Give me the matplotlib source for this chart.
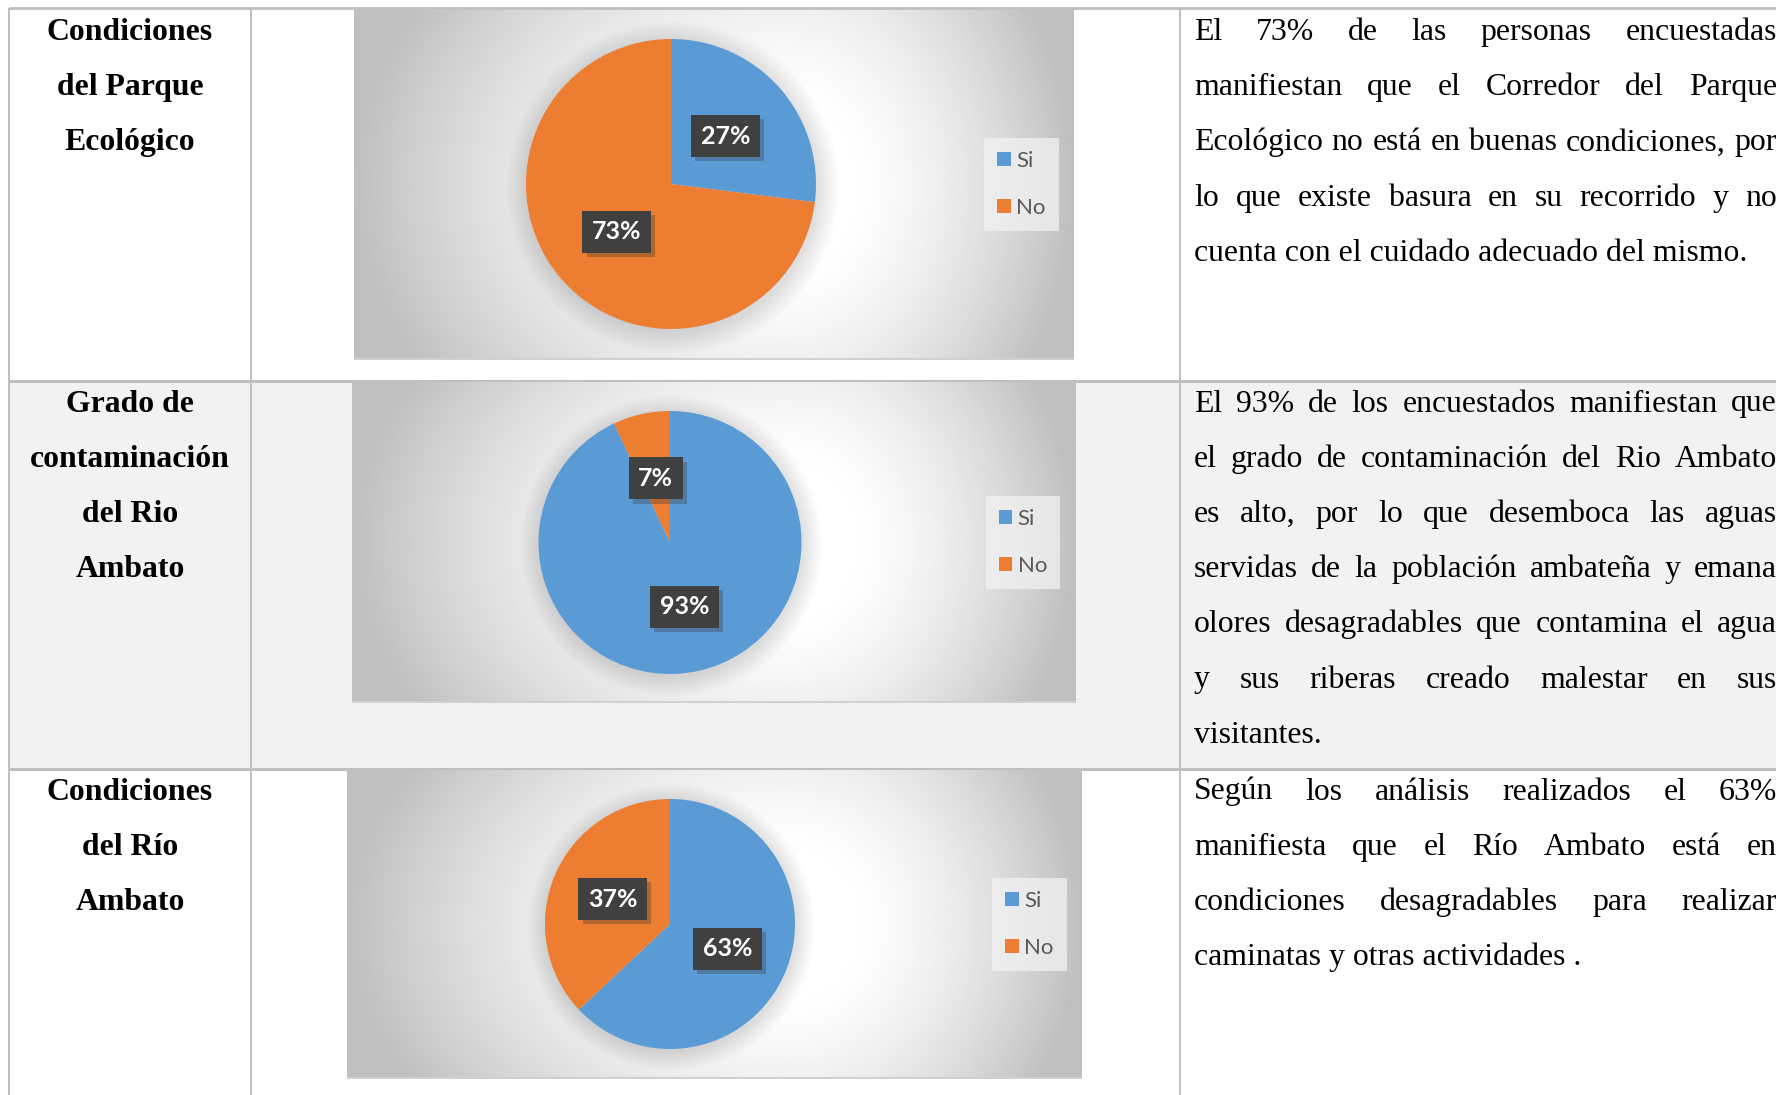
import numpy as np
import matplotlib.pyplot as plt
import matplotlib.patheffects as pe
from matplotlib.patches import Circle, Rectangle

# figure size in pixels (dpi 100)
W, H = 1776, 1095

# data
categories = ["Si", "No"]
colors = ["#5B9BD5", "#ED7D31"]

parque_values = [27, 73]
contaminacion_values = [93, 7]
rio_values = [63, 37]
pie_values = [parque_values, contaminacion_values, rio_values]

headings = [
    ["Condiciones", "del Parque", "Ecológico"],
    ["Grado de", "contaminación", "del Rio", "Ambato"],
    ["Condiciones", "del Río", "Ambato"],
]

paragraphs = [
    ["El 73% de las personas encuestadas",
     "manifiestan que el Corredor del Parque",
     "Ecológico no está en buenas condiciones, por",
     "lo que existe basura en su recorrido y no",
     "cuenta con el cuidado adecuado del mismo."],
    ["El 93% de los encuestados manifiestan que",
     "el grado de contaminación del Rio Ambato",
     "es alto, por lo que desemboca las aguas",
     "servidas de la población ambateña y emana",
     "olores desagradables que contamina el agua",
     "y sus riberas creado malestar en sus",
     "visitantes."],
    ["Según los análisis realizados el 63%",
     "manifiesta que el Río Ambato está en",
     "condiciones desagradables para realizar",
     "caminatas y otras actividades ."],
]

# layout (pixels, origin top-left)
row_tops = [8, 381, 769]
row_bottoms = [381, 769, H]
row_bg = ["white", "#f2f2f2", "white"]
first_baseline = [40, 411.5, 799.5]
line_step = 55.2
col_lines = [9, 251, 1180]
head_x = 130
text_left, text_right = 1194, 1777

chart_boxes = [(354, 10, 1074, 360), (352, 382, 1075, 703), (347, 770, 1081, 1079)]
pie_geo = [(671, 184, 145), (670, 542.5, 131.5), (670, 924, 125)]
legend_pos = [(1021.5, 184.5), (1023, 542.5), (1029.5, 924.5)]

serif = "Liberation Serif"
txt_size = 22.9
line_col = "#bfbfbf"


def frac(x0, y0, x1, y1):
    return [x0 / W, 1 - y1 / H, (x1 - x0) / W, (y1 - y0) / H]


fig = plt.figure(figsize=(W / 100, H / 100), dpi=100)
ax0 = fig.add_axes([0, 0, 1, 1])
ax0.set_xlim(0, W)
ax0.set_ylim(H, 0)
ax0.axis("off")

# table rows and lines
for top, bot, bg in zip(row_tops, row_bottoms, row_bg):
    ax0.add_patch(Rectangle((col_lines[0], top), W, bot - top, color=bg, lw=0))
for y in row_tops[1:]:
    ax0.plot([col_lines[0], W], [y, y], color=line_col, lw=2.2, solid_capstyle="butt")
ax0.plot([col_lines[0], W], [8, 8], color=line_col, lw=2.0, solid_capstyle="butt")
for x in col_lines:
    ax0.plot([x, x], [8, H], color=line_col, lw=1.4, solid_capstyle="butt")

# headings
for r, lines in enumerate(headings):
    for i, s in enumerate(lines):
        ax0.text(head_x, first_baseline[r] + i * line_step, s, ha="center",
                 va="baseline", fontsize=txt_size, fontweight="bold", family=serif)

# justified paragraphs
renderer = fig.canvas.get_renderer()


def word_width(s):
    t = ax0.text(0, 0, s, fontsize=txt_size, family=serif)
    w = t.get_window_extent(renderer).width
    t.remove()
    return w


for r, lines in enumerate(paragraphs):
    for i, s in enumerate(lines):
        y = first_baseline[r] + i * line_step
        words = s.split(" ")
        if i == len(lines) - 1 or len(words) == 1:
            ax0.text(text_left, y, s, ha="left", va="baseline",
                     fontsize=txt_size, family=serif)
            continue
        widths = [word_width(w) for w in words]
        gap = (text_right - text_left - sum(widths)) / (len(words) - 1)
        x = text_left
        for w, wd in zip(words, widths):
            ax0.text(x, y, w, ha="left", va="baseline", fontsize=txt_size, family=serif)
            x += wd + gap

# gradient background for the chart pictures
nx, ny = 500, 250
gx, gy = np.meshgrid(np.linspace(0, 1, nx), np.linspace(0, 1, ny))
cx = 0.6
dx = np.where(gx < cx, (gx - cx) / cx, (gx - cx) / (1 - cx))
dy = (gy - 0.5) / 0.5
tt = np.sqrt(dx ** 2 + (dy * 0.5) ** 2)
grad = 1 - 0.25 * np.clip((tt - 0.2) / 0.8, 0, 1) ** 1.5

for k in range(3):
    x0, y0, x1, y1 = chart_boxes[k]
    axb = fig.add_axes(frac(x0, y0, x1, y1))
    axb.imshow(grad, extent=[0, 1, 0, 1], aspect="auto", cmap="gray",
               vmin=0, vmax=1, interpolation="bilinear")
    axb.set_xlim(0, 1)
    axb.set_ylim(0, 1)
    axb.axis("off")
    axb.plot([0, 1], [0.002, 0.002], color="#d0d0d0", lw=1.5)

    # pie
    pcx, pcy, pr = pie_geo[k]
    s = 1.3 * pr
    axp = fig.add_axes(frac(pcx - s, pcy - s, pcx + s, pcy + s))
    for j in range(16):
        axp.add_patch(Circle((0.01, -0.025), 1.0 + 0.01 * j, color="black",
                             alpha=0.009, lw=0, zorder=0))
    wedges, texts, autotexts = axp.pie(
        pie_values[k], colors=colors, startangle=90, counterclock=False,
        autopct="%1.0f%%", pctdistance=0.5, radius=1.0,
        wedgeprops=dict(linewidth=0))
    for t in autotexts:
        t.set_color("white")
        t.set_fontsize(18)
        t.set_fontweight("bold")
        t.set_family("Lato")
        t.set_bbox(dict(boxstyle="square,pad=0.38", fc="#404040", ec="none"))
        t.get_bbox_patch().set_path_effects([
            pe.SimplePatchShadow(offset=(3, -3), shadow_rgbFace="#303030", alpha=0.3),
            pe.Normal()])
    axp.set_xlim(-1.3, 1.3)
    axp.set_ylim(-1.3, 1.3)
    axp.axis("off")

    # legend
    lx, ly = legend_pos[k]
    anchor = ((lx - x0) / (x1 - x0), 1 - (ly - y0) / (y1 - y0))
    leg = axb.legend(wedges, categories, loc="center", bbox_to_anchor=anchor,
                     frameon=True, fancybox=False, facecolor="#f2f2f2",
                     edgecolor="none", framealpha=0.75,
                     prop={"family": "Lato", "size": 16}, labelcolor="#595959",
                     handlelength=0.6, handleheight=0.6, handletextpad=0.25,
                     labelspacing=1.2, borderpad=0.6, borderaxespad=0)

fig.savefig("out.png", dpi=100)
